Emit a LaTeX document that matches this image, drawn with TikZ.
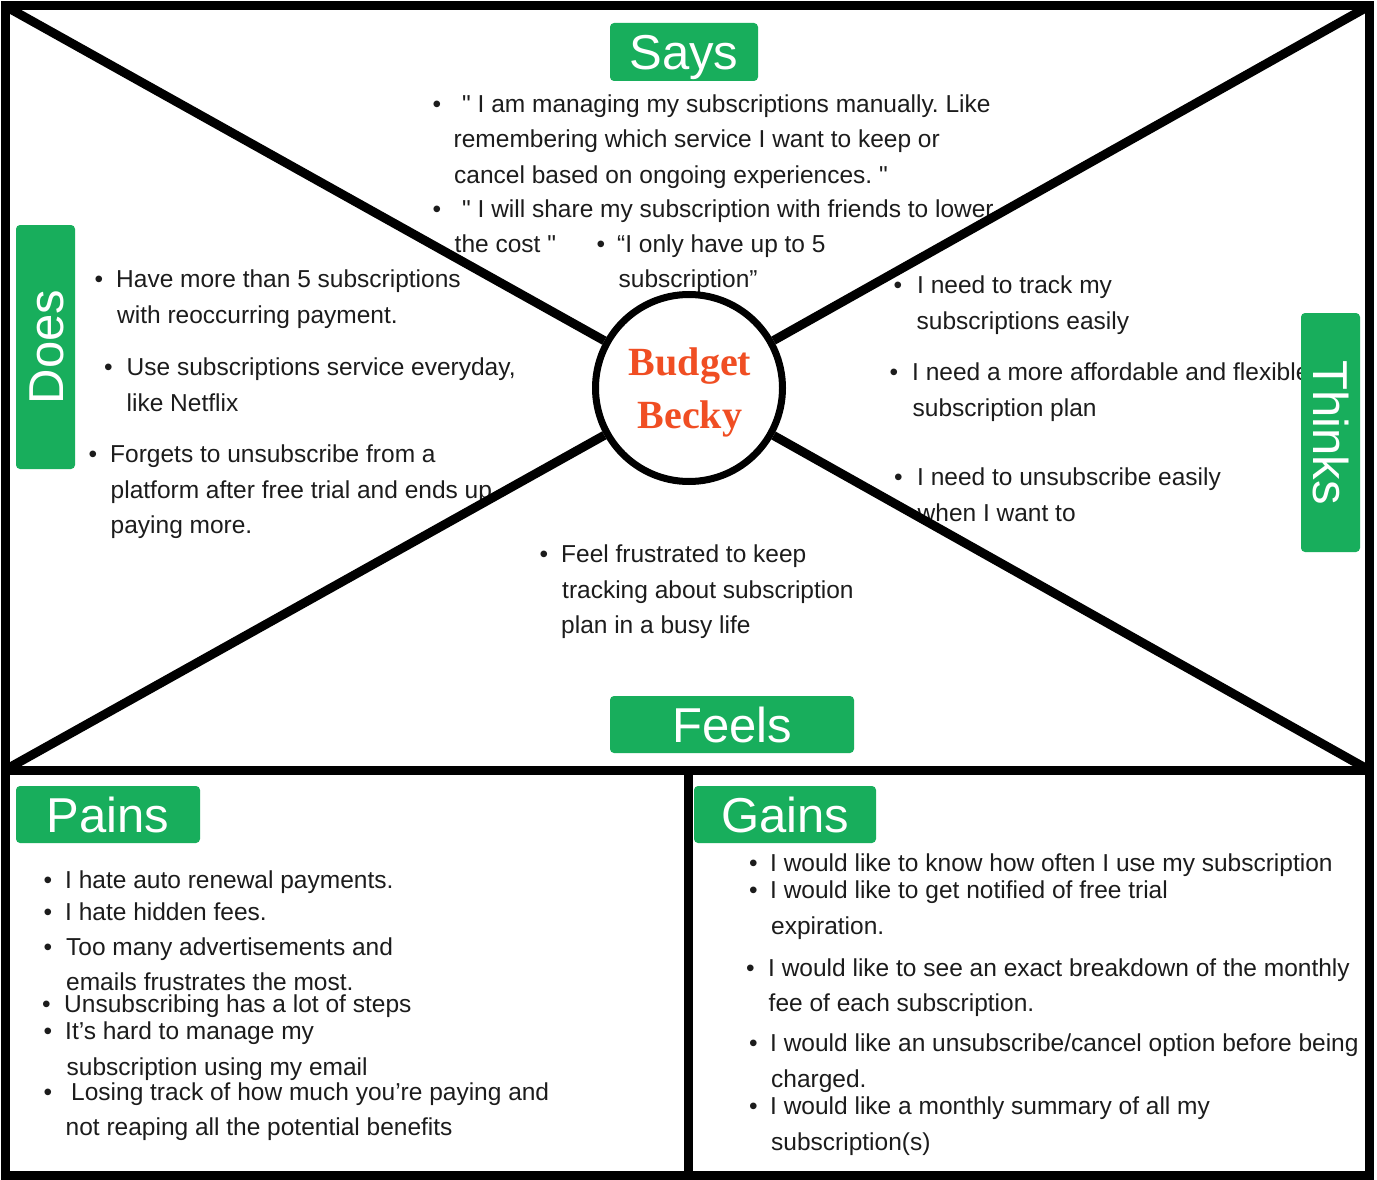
\documentclass[tikz,border=0pt]{standalone}
\usepackage{fontspec}
\setmainfont{Liberation Sans}
\newfontfamily\bodyfont{Liberation Sans}
\newfontfamily\serifbold{Liberation Serif}
\frenchspacing
\definecolor{grn}{RGB}{24,174,92}
\definecolor{ink}{RGB}{28,28,28}
\definecolor{org}{RGB}{240,78,35}
\tikzset{
  body/.style={font=\bodyfont\fontsize{24.5}{29}\selectfont, text=ink, inner sep=0pt, anchor=base west},
  bul/.style={font=\bodyfont\fontsize{24.5}{29}\selectfont, text=ink, inner sep=0pt, anchor=base},
  tag/.style={fill=grn, rounded corners=4pt, text=white, font=\fontsize{49}{49}\selectfont, inner sep=0pt, text height=35pt, text depth=0pt},
  frame/.style={line width=9pt, black, line join=miter},
  spoke/.style={line width=9pt, black},
  hub/.style={circle, draw=black, line width=7pt, fill=white, minimum size=187pt, inner sep=0pt},
  persona/.style={font=\serifbold\bfseries\fontsize{40}{40}\selectfont, text=org, inner sep=0pt, anchor=base},
}
\newcommand\bit[5]{\node[bul] (#1b) at (#2,#4) {•}; \node[body] (#1) at (#3,#4) {#5};}
\newcommand\bln[4]{\node[body] (#1) at (#2,#3) {#4};}
\begin{document}
\begin{tikzpicture}[x=1pt,y=-1pt]
\useasboundingbox (0,0) rectangle (1377,1180);
\fill[white] (0,0) rectangle (1377,1180);
% frame coordinates
\coordinate (tl) at (5,6);
\coordinate (tr) at (1369,6);
\coordinate (ml) at (5,770);
\coordinate (mr) at (1369,770);
\coordinate (bl) at (5,1175);
\coordinate (br) at (1369,1175);
\coordinate (dt) at (688,770);
\coordinate (db) at (688,1175);

% Says
\bit{sa}{437}{462}{113}{" I am managing my subscriptions manually. Like}
\bln{sb}{453.5}{148}{remembering which service I want to keep or}
\bln{sc}{454}{183}{cancel based on ongoing experiences. "}
\bit{sd}{437}{462}{217}{" I will share my subscription with friends to lower}
\bln{se}{454.5}{252}{the cost "}
\bit{sf}{601}{617}{252}{“I only have up to 5}
\bln{sg}{618.5}{287}{subscription”}

% Does
\bit{da}{99}{116}{287}{Have more than 5 subscriptions}
\bln{db2}{117}{323}{with reoccurring payment.}
\bit{dc}{108.5}{126.5}{375}{Use subscriptions service everyday,}
\bln{dd}{126.5}{411}{like Netflix}
\bit{de}{93}{110}{462}{Forgets to unsubscribe from a}
\bln{df}{110.5}{498}{platform after free trial and ends up}
\bln{dg}{110.5}{533}{paying more.}

% Thinks
\bit{ta}{898}{917}{293}{I need to track my}
\bln{tb}{916.5}{329}{subscriptions easily}
\bit{tc}{894}{912}{380}{I need a more affordable and flexible}
\bln{td}{912.5}{416}{subscription plan}
\bit{te}{898.5}{917}{485}{I need to unsubscribe easily}
\bln{tf}{917.5}{521}{when I want to}

% Feels
\bit{fa}{544}{561}{562}{Feel frustrated to keep}
\bln{fb}{562}{598}{tracking about subscription}
\bln{fc}{561}{633}{plan in a busy life}

% Pains
\bit{pa}{48}{65}{888}{I hate auto renewal payments.}
\bit{pb}{48}{65}{920.5}{I hate hidden fees.}
\bit{pc}{48}{66}{955}{Too many advertisements and}
\bln{pd}{66}{990.5}{emails frustrates the most.}
\bit{pe}{46.5}{64}{1012}{Unsubscribing has a lot of steps}
\bit{pf}{48}{65}{1039.5}{It’s hard to manage my}
\bln{pg}{66.5}{1075}{subscription using my email}
\bit{ph}{48}{71}{1100}{Losing track of how much you’re paying and}
\bln{pi}{65.5}{1135}{not reaping all the potential benefits}

% Gains
\bit{ga}{753.5}{770}{871}{I would like to know how often I use my subscription}
\bit{gb}{753.5}{770}{898.5}{I would like to get notified of free trial}
\bln{gc}{771}{934}{expiration.}
\bit{gd}{750.5}{768}{976}{I would like to see an exact breakdown of the monthly}
\bln{ge}{768.5}{1011}{fee of each subscription.}
\bit{gf}{753.5}{770}{1051.5}{I would like an unsubscribe/cancel option before being}
\bln{gg}{771}{1087}{charged.}
\bit{gh}{753.5}{770}{1114}{I would like a monthly summary of all my}
\bln{gi}{771}{1150}{subscription(s)}

% centre
\node[hub] (becky) at (689,388) {};
\node[persona] (bud) at (690,375) {Budget};
\node[persona] (bec) at (690,428) {Becky};

% lines
\draw[frame] (tl) rectangle (br);
\draw[frame] (ml) -- (mr);
\draw[frame] (dt) -- (db);
\draw[spoke] (tl) -- (becky);
\draw[spoke] (becky) -- (mr);
\draw[spoke] (tr) -- (becky);
\draw[spoke] (becky) -- (ml);

% tags
\node[tag, minimum width=148pt, minimum height=58pt] (says) at (684,52) {Says};
\node[tag, rotate=90, minimum width=244pt, minimum height=59pt] (does) at (45.5,347) {Does};
\node[tag, rotate=-90, minimum width=239pt, minimum height=59pt] (thinks) at (1330.5,432.5) {Thinks};
\node[tag, minimum width=244pt, minimum height=57pt] (feels) at (732,724.5) {Feels};
\node[tag, minimum width=184pt, minimum height=57pt] (pains) at (108,814.5) {Pains};
\node[tag, minimum width=182pt, minimum height=57pt] (gains) at (785,814.5) {Gains};
\end{tikzpicture}
\end{document}
